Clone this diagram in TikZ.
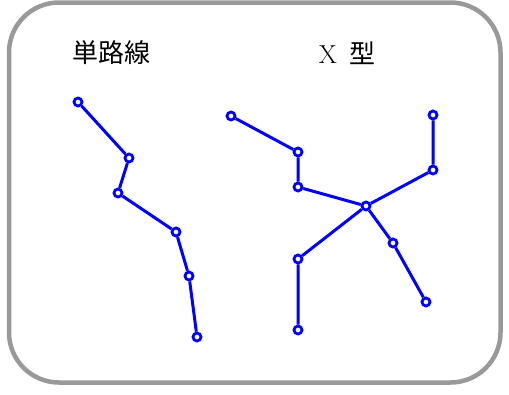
\documentclass[tikz,border=0pt]{standalone}
\usepackage{fontspec}
\newfontfamily\cjk{Noto Sans CJK JP}
\definecolor{framegray}{RGB}{153,153,153}
\usetikzlibrary{positioning}

\begin{document}
\begin{tikzpicture}[x=1pt, y=-1pt, thick, every node/.style={font=\fontsize{26}{30}\selectfont},
    stop/.style={circle, draw=blue, fill=white, line width=2.8pt, inner sep=0pt, minimum size=8pt},
    route/.style={draw=blue, line width=3pt}]
    \useasboundingbox (0,0) rectangle (509,394);
    \draw[framegray, line width=4.5pt, rounded corners=50pt] (9,2.5) rectangle (500.5,382.5);

    \node (single) at (111,53) {\cjk 単路線};
    \node (xtype) at (347,53) {X\hspace{12pt}{\cjk 型}};

    % single route
    \node[stop] (s1) at (78,102) {};
    \node[stop] (s2) at (129,158) {};
    \node[stop] (s3) at (118,193) {};
    \node[stop] (s4) at (176,232) {};
    \node[stop] (s5) at (189,276) {};
    \node[stop] (s6) at (197,337) {};
    \draw[route] (s1) -- (s2) -- (s3) -- (s4) -- (s5) -- (s6);

    % x-shaped routes
    \node[stop] (c) at (366,206) {};
    \node[stop] (a1) at (231,116) {};
    \node[stop] (a2) at (298,152) {};
    \node[stop] (a3) at (298,187) {};
    \node[stop] (b1) at (433,115) {};
    \node[stop] (b2) at (433,170) {};
    \node[stop] (d1) at (298,330) {};
    \node[stop] (d2) at (298,259) {};
    \node[stop] (e1) at (426,302) {};
    \node[stop] (e2) at (393,243) {};
    \draw[route] (a1) -- (a2) -- (a3) -- (c);
    \draw[route] (b1) -- (b2) -- (c);
    \draw[route] (d1) -- (d2) -- (c);
    \draw[route] (e1) -- (e2) -- (c);
\end{tikzpicture}
\end{document}
